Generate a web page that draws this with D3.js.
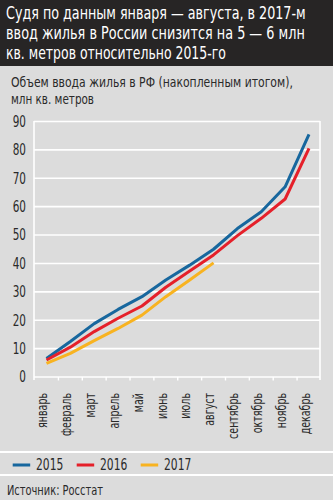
<!DOCTYPE html>
<html><head><meta charset="utf-8">
<script src="https://cdn.jsdelivr.net/npm/d3@7"></script>
<style>
body{margin:0;background:#fff}
svg{display:block}
text{font-family:"Liberation Sans Narrow","DejaVu Sans Condensed","Roboto Condensed",sans-serif;fill:#2a2a2a}
</style>
</head><body>
<script>
const titleLines = ["Судя по данным января — августа, в 2017-м","ввод жилья в России снизится на 5 — 6 млн","кв. метров относительно 2015-го"];
const subtitleLines = ["Объем ввода жилья в РФ (накопленным итогом),","млн кв. метров"];
const months = ["январь","февраль","март","апрель","май","июнь","июль","август","сентябрь","октябрь","ноябрь","декабрь"];
const values2015 = [6.5, 12.5, 18.8, 23.8, 28.3, 34.2, 39.4, 45.0, 52.3, 58.2, 67.0, 85.5];
const values2016 = [6.0, 10.5, 16.0, 20.7, 25.0, 31.6, 37.3, 43.0, 49.8, 55.9, 62.7, 80.5];
const values2017 = [4.8, 8.3, 12.8, 17.1, 21.8, 28.3, 34.2, 40.2];
const yTicks = [0,10,20,30,40,50,60,70,80,90];
const seriesNames = ["2015","2016","2017"];
const seriesColors = ["#17679e","#e5202a","#f8b320"];
const source = "Источник: Росстат";

const W = 333, H = 500;
const svg = d3.select("body").append("svg").attr("width", W).attr("height", H);

// place a text at (x,y) and squeeze it horizontally so its width equals `width`
function placeFit(g, str, x, y, width, size, extra) {
  const t = g.append("text").style("font-size", size + "px").text(str);
  const L = t.node().getComputedTextLength();
  const f = width / L;
  t.attr("transform", `translate(${x},${y}) ${extra || ""} scale(${f},1)`);
  return t;
}

// backgrounds
svg.append("rect").attr("width", W).attr("height", H).attr("fill", "#dcdcdc");
svg.append("rect").attr("width", W).attr("height", 66).attr("fill", "#272525");

// title
const titleWidths = [300, 299, 220];
titleLines.forEach((t, i) => {
  placeFit(svg, t, 6, 18.5 + i * 20.3, titleWidths[i], 17).style("fill", "#fff");
});
// subtitle
const subWidths = [282, 83];
subtitleLines.forEach((t, i) => {
  placeFit(svg, t, 11, 86.5 + i * 17.8, subWidths[i], 14.5);
});

const series = [values2015, values2016, values2017];
const x = d3.scalePoint().domain(months).range([46.5, 309]);
const y = d3.scaleLinear().domain([0, 90]).range([377, 121.5]);
const step = x.step();
const left = 34, right = 320;

// grid
svg.append("g").selectAll("line").data(yTicks).join("line")
  .attr("x1", left).attr("x2", right)
  .attr("y1", d => y(d)).attr("y2", d => y(d))
  .attr("stroke", "#fff").attr("stroke-width", 1.6);
[left, right].forEach(xx => {
  svg.append("line").attr("x1", xx).attr("x2", xx).attr("y1", y(90) - 0.5).attr("y2", 380)
    .attr("stroke", "#fff").attr("stroke-width", 1.6);
});
const bounds = months.map(m => x(m) - step / 2).concat([x(months[months.length - 1]) + step / 2]);
svg.append("g").selectAll("line").data(bounds.slice(1, -1)).join("line")
  .attr("x1", d => d).attr("x2", d => d).attr("y1", y(0)).attr("y2", 380.5)
  .attr("stroke", "#fff").attr("stroke-width", 1.4);

// y labels
const yl = svg.append("g").selectAll("text").data(yTicks).join("text")
  .attr("dy", "0.36em").attr("text-anchor", "end").style("font-size", "15px").text(d => d);
{
  const f = 13.3 / yl.filter(d => d === 90).node().getComputedTextLength();
  yl.attr("transform", d => `translate(26,${y(d)}) scale(${f},1)`);
}

// x labels
const xl = svg.append("g").selectAll("text").data(months).join("text")
  .attr("text-anchor", "end").style("font-size", "14px").text(d => d);
{
  const f = 46 / xl.filter(d => d === "сентябрь").node().getComputedTextLength();
  xl.attr("transform", d => `translate(${x(d) + 0.8},393) rotate(-90) scale(${f},1)`);
}

// lines
const line = d3.line().x((d, i) => x(months[i])).y(d => y(d));
series.forEach((s, k) => {
  svg.append("path").datum(s).attr("d", line)
    .attr("fill", "none").attr("stroke", seriesColors[k]).attr("stroke-width", 3)
    .attr("stroke-linejoin", "round");
});

// separators
[452, 475].forEach(yy => {
  svg.append("line").attr("x1", 0).attr("x2", W).attr("y1", yy).attr("y2", yy)
    .attr("stroke", "#fff").attr("stroke-width", 2);
});

// legend
const legendX = [12.7, 76.7, 140.7];
seriesNames.forEach((n, k) => {
  svg.append("line").attr("x1", legendX[k]).attr("x2", legendX[k] + 17.5)
    .attr("y1", 465).attr("y2", 465).attr("stroke", seriesColors[k]).attr("stroke-width", 3);
  placeFit(svg, n, legendX[k] + 23.3, 469.5, 27.3, 15);
});

// source
placeFit(svg, source, 7, 495, 96, 14);
</script>
</body></html>
